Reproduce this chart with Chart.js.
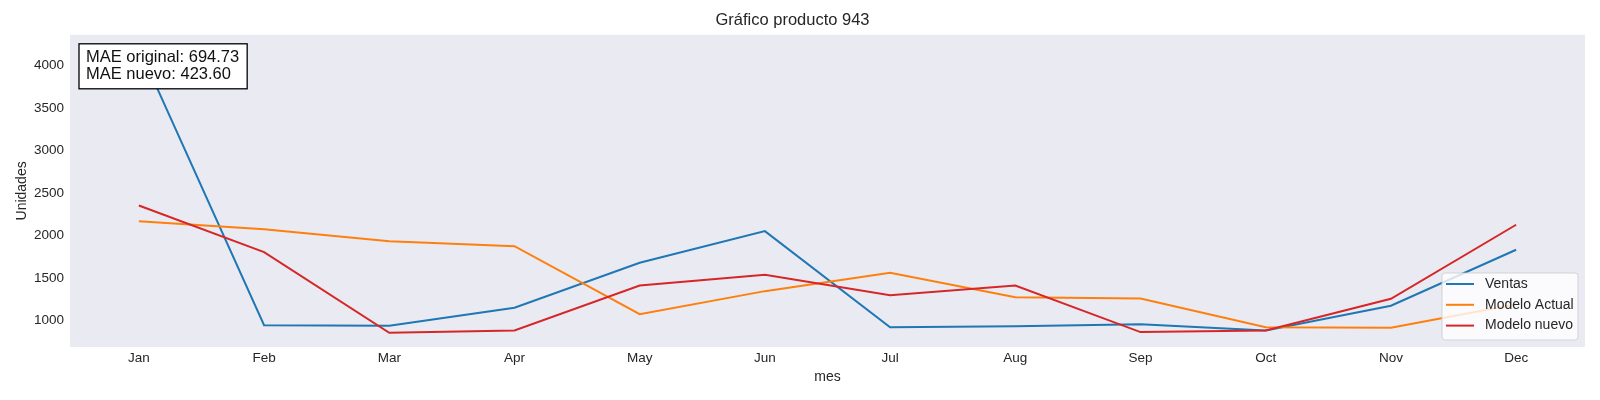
<!DOCTYPE html>
<html>
<head>
<meta charset="utf-8">
<script src="https://cdn.jsdelivr.net/npm/chart.js@4/dist/chart.umd.min.js"></script>
<style>
  html, body { margin: 0; padding: 0; background: #ffffff; }
  #wrap { width: 1600px; height: 400px; }
</style>
</head>
<body>
<div id="wrap"><canvas id="forecastChart" width="1600" height="400"></canvas></div>
<script>
const months = ["Jan", "Feb", "Mar", "Apr", "May", "Jun", "Jul", "Aug", "Sep", "Oct", "Nov", "Dec"];
const ventas = [4210, 945, 937, 1149, 1678, 2051, 921, 933, 957, 882, 1173, 1832];
const modeloActual = [2168, 2074, 1933, 1874, 1074, 1345, 1561, 1274, 1259, 921, 914, 1190];
const modeloNuevo = [2353, 1804, 855, 882, 1412, 1537, 1298, 1412, 863, 882, 1255, 2126];
const yTicks = [1000, 1500, 2000, 2500, 3000, 3500, 4000];
const maeLines = ["MAE original: 694.73", "MAE nuevo: 423.60"];

const seriesNames = ["Ventas", "Modelo Actual", "Modelo nuevo"];
const seriesColors = ["#1f77b4", "#ff7f0e", "#d62728"];
const FONT = '"Liberation Sans", Arial, sans-serif';
const TEXT = "#262626";

const toPoints = (values) => values.map((v, i) => ({ x: i, y: v }));

// seaborn-like grey panel behind the lines
const panelBackground = {
  id: "panelBackground",
  beforeDatasetsDraw(chart) {
    const { ctx, chartArea: a } = chart;
    ctx.save();
    ctx.fillStyle = "#eaeaf2";
    ctx.fillRect(a.left, a.top, a.right - a.left, a.bottom - a.top);
    ctx.restore();
  },
};

// text box with the MAE values, top-left of the panel
const maeBox = {
  id: "maeBox",
  afterDatasetsDraw(chart) {
    const { ctx, chartArea: a } = chart;
    ctx.save();
    ctx.font = `16.5px ${FONT}`;
    const w = Math.max(...maeLines.map((t) => ctx.measureText(t).width)) + 15;
    const x = a.left + 9, y = a.top + 9, h = 45;
    ctx.fillStyle = "#ffffff";
    ctx.fillRect(x, y, w, h);
    ctx.strokeStyle = "#000000";
    ctx.lineWidth = 1.3;
    ctx.strokeRect(x, y, w, h);
    ctx.fillStyle = "#111111";
    ctx.textBaseline = "middle";
    maeLines.forEach((t, i) => ctx.fillText(t, x + 7, y + 13.5 + i * 17.3));
    ctx.restore();
  },
};

// legend box inside the panel, lower right
const innerLegend = {
  id: "innerLegend",
  afterDatasetsDraw(chart) {
    const { ctx, chartArea: a } = chart;
    const w = 136, h = 67;
    const x = a.right - 7 - w, y = a.bottom - 7 - h;
    ctx.save();
    ctx.beginPath();
    ctx.roundRect(x, y, w, h, 3);
    ctx.fillStyle = "rgba(255,255,255,0.8)";
    ctx.fill();
    ctx.strokeStyle = "rgba(204,204,204,0.8)";
    ctx.lineWidth = 1;
    ctx.stroke();
    ctx.font = `14px ${FONT}`;
    ctx.textBaseline = "middle";
    seriesNames.forEach((name, i) => {
      const cy = y + 11 + i * 20.8;
      ctx.strokeStyle = seriesColors[i];
      ctx.lineWidth = 2;
      ctx.beginPath();
      ctx.moveTo(x + 4, cy);
      ctx.lineTo(x + 32, cy);
      ctx.stroke();
      ctx.fillStyle = TEXT;
      ctx.fillText(name, x + 43, cy);
    });
    ctx.restore();
  },
};

function createForecastChart() {
  const ctx = document.getElementById("forecastChart");
  if (!ctx) return;

  return new Chart(ctx, {
    type: "line",
    data: {
      datasets: [
        { label: seriesNames[0], data: toPoints(ventas), borderColor: seriesColors[0], order: 3 },
        { label: seriesNames[1], data: toPoints(modeloActual), borderColor: seriesColors[1], order: 2 },
        { label: seriesNames[2], data: toPoints(modeloNuevo), borderColor: seriesColors[2], order: 1 },
      ],
    },
    options: {
      responsive: false,
      animation: false,
      devicePixelRatio: 1,
      layout: { padding: { left: 0, right: 15, top: 0, bottom: 0 } },
      elements: {
        point: { radius: 0 },
        line: { borderWidth: 2, tension: 0, fill: false },
      },
      plugins: {
        legend: { display: false },
        tooltip: { enabled: false },
        title: {
          display: true,
          text: "Gráfico producto 943",
          color: TEXT,
          font: { family: FONT, size: 16.5, weight: "normal" },
          padding: { top: 11, bottom: 4 },
        },
      },
      scales: {
        x: {
          type: "linear",
          min: -0.55,
          max: 11.55,
          grid: { display: false, drawTicks: false },
          border: { display: false },
          afterBuildTicks: (scale) => {
            scale.ticks = months.map((_, i) => ({ value: i }));
          },
          afterFit: (scale) => { scale.height = 53; },
          ticks: {
            color: TEXT,
            padding: 3,
            maxRotation: 0,
            autoSkip: false,
            font: { family: FONT, size: 13.5 },
            callback: (value) => months[value],
          },
          title: {
            display: true,
            text: "mes",
            color: TEXT,
            font: { family: FONT, size: 14 },
            padding: { top: 0, bottom: 14 },
          },
        },
        y: {
          min: 688,
          max: 4360,
          grid: { display: false, drawTicks: false },
          border: { display: false },
          afterBuildTicks: (scale) => {
            scale.ticks = yTicks.map((v) => ({ value: v }));
          },
          afterFit: (scale) => { scale.width = 70; },
          ticks: {
            color: TEXT,
            padding: 6,
            font: { family: FONT, size: 13.5 },
            callback: (value) => String(value),
          },
          title: {
            display: true,
            text: "Unidades",
            color: TEXT,
            font: { family: FONT, size: 14 },
            padding: { top: 14, bottom: 0 },
          },
        },
      },
    },
    plugins: [panelBackground, maeBox, innerLegend],
  });
}

document.addEventListener("DOMContentLoaded", createForecastChart);
</script>
</body>
</html>
